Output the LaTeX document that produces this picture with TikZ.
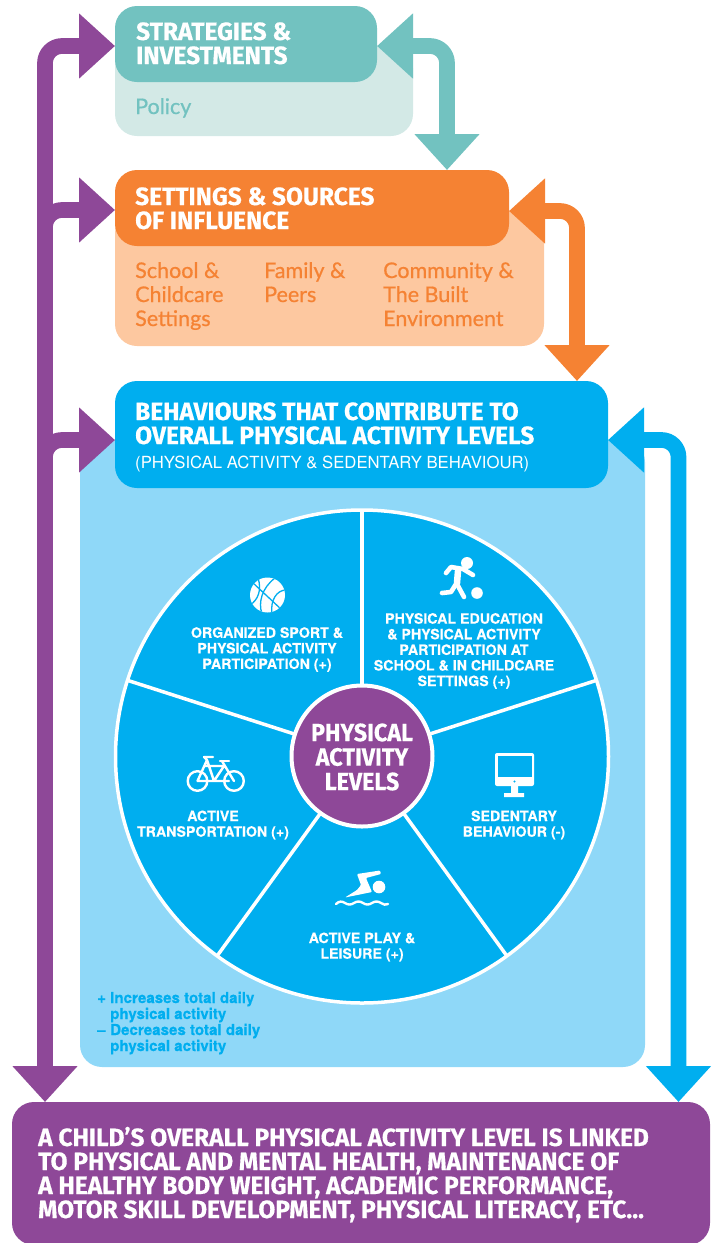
\documentclass[tikz,border=0pt]{standalone}
\usepackage{fontspec}
\usetikzlibrary{arrows.meta}
\setmainfont{Lato}
\newfontfamily\headf[FakeStretch=.98,FakeBold=.5]{Fira Sans}
\newfontfamily\hubf[FakeStretch=.93,FakeBold=.5]{Fira Sans}
\newfontfamily\wedgef{TeX Gyre Heros}
\newfontfamily\wedgeb[FakeBold=.3]{TeX Gyre Heros}
\newfontfamily\subf[FakeBold=.7]{Lato}
\definecolor{tealD}{HTML}{72C2C0}
\definecolor{tealL}{HTML}{D3E9E6}
\definecolor{orangeD}{HTML}{F58233}
\definecolor{orangeL}{HTML}{FDC8A0}
\definecolor{blueD}{HTML}{00AEEF}
\definecolor{blueL}{HTML}{8FD8F8}
\definecolor{purp}{HTML}{8E4898}
\tikzset{
  panel/.style={rectangle,rounded corners=22pt,inner sep=0pt,outer sep=0pt,fill=#1},
  conn/.style={line width=15.7pt,draw=#1,rounded corners=17pt,>={Triangle[width=63pt,length=36pt]}},
  head/.style={anchor=base west,inner sep=0pt,align=left,text=white,font=\headf\bfseries\fontsize{25}{24}\selectfont},
  sub/.style={anchor=base west,inner sep=0pt,align=left,text=#1,font=\subf\fontsize{21.5}{24}\selectfont},
  wedge/.style={anchor=center,inner sep=0pt,align=center,text=white,font=\wedgeb\bfseries\fontsize{14.2}{15.6}\selectfont},
  legend/.style={anchor=base west,inner sep=0pt,text=blueD,align=left,font=\wedgeb\bfseries\fontsize{15.1}{16}\selectfont},
  icon/.style={draw=white,line width=4.6pt,line cap=round,line join=round},
  bikel/.style={draw=white,line width=2.4pt,line cap=round,line join=round},
}
\begin{document}
\begin{tikzpicture}[x=1pt,y=-1pt]
\useasboundingbox (0,0) rectangle (713,1243);
% panels
\node[panel=tealL,minimum width=298pt,minimum height=90pt] (stratL) at (264,91) {};
\node[panel=tealD,minimum width=262pt,minimum height=76pt] (strat) at (246,44) {};
\node[panel=orangeL,minimum width=429pt,minimum height=135pt] (setL) at (329.5,278.5) {};
\node[panel=orangeD,minimum width=394pt,minimum height=76pt] (set) at (312,208) {};
\node[panel=blueL,minimum width=565pt,minimum height=627pt] (behL) at (362.5,753.5) {};
\node[panel=blueD,minimum width=493pt,minimum height=107pt] (beh) at (361.5,434.5) {};
\node[panel=purp,minimum width=698pt,minimum height=143pt] (final) at (361,1173.5) {};
% connector ends
\coordinate (tA) at (377,46);
\coordinate (tB) at (447,170);
\coordinate (oA) at (509,211);
\coordinate (oB) at (577,381);
\coordinate (bA) at (608,440);
\coordinate (bB) at (678.5,1102);
\coordinate (pA) at (115,46);
\coordinate (pB) at (115,210);
\coordinate (pC) at (115,440);
\coordinate (pD) at (45,1102);
\coordinate (pT) at (45,800);
% connectors
\draw[conn=tealD,<->] (tA) -| (tB);
\draw[conn=orangeD,<->] (oA) -| (oB);
\draw[conn=blueD,<->] (bA) -| (bB);
\draw[conn=purp,<->] (pD) |- (pA);
\draw[conn=purp,->] (pT) |- (pB);
\draw[conn=purp,->] (pT) |- (pC);
% heading text
\node[head] (t1) at (136,64) {STRATEGIES \&\\INVESTMENTS};
\node[sub=tealD] (t2) at (135,114) {Policy};
\node[head] (t3) at (135,229) {SETTINGS \& SOURCES\\OF INFLUENCE};
\node[sub=orangeD] (t4) at (135,326) {School \&\\Childcare\\Settings};
\node[sub=orangeD] (t5) at (264,302) {Family \&\\Peers};
\node[sub=orangeD] (t6) at (383,326) {Community \&\\The Built\\Environment};
\node[head] (t7) at (135,444) {BEHAVIOURS THAT CONTRIBUTE TO\\OVERALL PHYSICAL ACTIVITY LEVELS};
\node[anchor=base west,inner sep=0pt,text=white,font=\wedgef\fontsize{16.7}{18}\selectfont] (t8) at (135,468) {(PHYSICAL ACTIVITY \& SEDENTARY BEHAVIOUR)};
% wheel
\node[circle,fill=blueD,draw=white,line width=3.5pt,minimum size=493pt,inner sep=0pt,outer sep=0pt] (wheel) at (362,756.5) {};
\node[circle,fill=purp,draw=white,line width=4pt,minimum size=141pt,inner sep=0pt,outer sep=0pt] (hub) at (362,756) {};
\foreach \a in {90,18,-54,-126,162} \draw[white,line width=3.5pt] (hub.\a) -- (wheel.\a);
\node[anchor=center,inner sep=0pt,align=center,text=white,font=\hubf\bfseries\fontsize{25}{24.5}\selectfont] (hubt) at (362,757) {PHYSICAL\\ACTIVITY\\LEVELS};
% wedge labels
\node[wedge] (w1) at (267,649.5) {ORGANIZED SPORT \&\\PHYSICAL ACTIVITY\\PARTICIPATION (+)};
\node[wedge] (w2) at (464,651) {PHYSICAL EDUCATION\\\& PHYSICAL ACTIVITY\\PARTICIPATION AT\\SCHOOL \& IN CHILDCARE\\SETTINGS (+)};
\node[wedge] (w3) at (213,825) {ACTIVE\\TRANSPORTATION (+)};
\node[wedge] (w4) at (514,825) {SEDENTARY\\BEHAVIOUR (-)};
\node[wedge] (w5) at (362,947) {ACTIVE PLAY \&\\LEISURE (+)};
% basketball
\fill[white] (267.5,595) circle (17.5);
\begin{scope}[blueD,line width=1.3pt]
\clip (267.5,595) circle (17.5);
\draw (252,582) -- (282,610);
\draw (258,578) .. controls (262,590) and (258,600) .. (250,605);
\draw (275,578) .. controls (262,588) and (258,602) .. (262,614);
\draw (286,590) .. controls (277,590) and (270,600) .. (272,614);
\end{scope}
% runner
\fill[white] (467,563) circle (6);
\fill[white] (477,593) circle (5.8);
\draw[icon] (446,573) -- (451,567) -- (463,569) -- (473,575);
\draw[icon,line width=6.5pt] (458,571) -- (457,583);
\draw[icon] (457,584) -- (464,597);
\draw[icon] (456,584) -- (451,592) -- (442,593);
% bicycle
\draw[bikel] (197.5,781) circle (9.8) (234,781) circle (9.8);
\draw[bikel] (197.5,781) -- (207,760) -- (214,781) -- (197.5,781) (205,766) -- (224,766) (214,781) -- (224,766) (222,761) -- (234,781) (214,781) -- (229,781);
\draw[bikel] (204,757) -- (213,757) (204,757) -- (207,760);
\draw[bikel] (220,761) -- (229,761);
% monitor
\fill[white,rounded corners=2pt] (495,753) rectangle (534,786);
\fill[blueD] (497.5,756) rectangle (531.5,777);
\fill[blueD] (514.5,781.5) circle (1.2);
\fill[white] (511,786) rectangle (518,793) (504,793) rectangle (524,797);
% swimmer
\fill[white] (379,887) circle (6.3);
\fill[white,rounded corners=1pt] (357,874) -- (380,870.5) -- (381,874) -- (366,878) -- (372,892) -- (345,897.5) -- (357,890) -- (361,885) -- cycle;
\draw[white,line width=2.4pt,line cap=round] (336,904) .. controls (339,901) and (342,901) .. (345,903) .. controls (348,905) and (351,905) .. (354,903) .. controls (357,901) and (360,901) .. (363,903) .. controls (366,905) and (369,905) .. (372,903) .. controls (375,901) and (378,901) .. (381,903) .. controls (383,905) and (386,905) .. (388,904);
% legend
\node[legend] (l1) at (97,1003) {+};
\node[legend] (l2) at (110,1019) {Increases total daily\\physical activity};
\node[legend] (l3) at (97,1035) {–};
\node[legend] (l4) at (110,1051) {Decreases total daily\\physical activity};
% final text
\node[head] (t9) at (38,1218) {A CHILD’S OVERALL PHYSICAL ACTIVITY LEVEL IS LINKED\\TO PHYSICAL AND MENTAL HEALTH, MAINTENANCE OF\\A HEALTHY BODY WEIGHT, ACADEMIC PERFORMANCE,\\MOTOR SKILL DEVELOPMENT, PHYSICAL LITERACY, ETC...};
\end{tikzpicture}
\end{document}
